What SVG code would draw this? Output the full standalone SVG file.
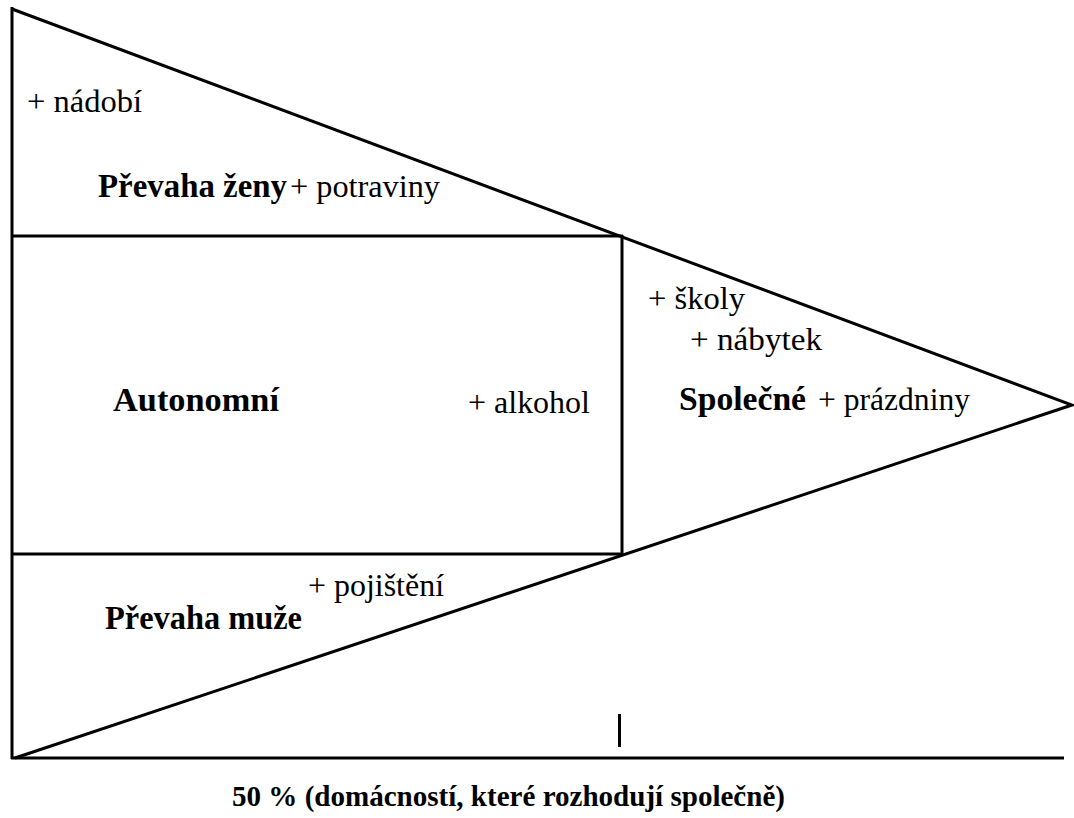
<svg xmlns="http://www.w3.org/2000/svg" width="1074" height="818" viewBox="0 0 1074 818">
  <style>
    .ln { stroke: #000; stroke-width: 3; fill: none; stroke-linecap: butt; stroke-linejoin: miter; }
    .b { font-family: "Liberation Serif", "Times New Roman", serif; font-weight: bold; font-size: 33px; fill: #000; }
    .r { font-family: "Liberation Serif", "Times New Roman", serif; font-size: 32px; fill: #000; }
    .ax { font-size: 29px; }
  </style>
  <rect width="1074" height="818" fill="#fff"/>
  <g id="connectors">
    <!-- outer triangle -->
    <polyline class="ln" points="12,9 1072,405 15,758"/>
    <line class="ln" x1="12" y1="7" x2="12" y2="759"/>
    <!-- autonomous block -->
    <line class="ln" x1="12" y1="236" x2="623" y2="236"/>
    <line class="ln" x1="12" y1="554" x2="623" y2="554"/>
    <line class="ln" x1="622" y1="235" x2="622" y2="556"/>
    <!-- axis -->
    <line class="ln" x1="11" y1="758" x2="1064" y2="758"/>
    <line class="ln" x1="619.5" y1="714" x2="619.5" y2="747"/>
  </g>
  <g id="zeny">
    <text class="r" x="27" y="112" textLength="115" lengthAdjust="spacingAndGlyphs">+ nádobí</text>
    <text class="b" x="98" y="197" textLength="189" lengthAdjust="spacingAndGlyphs">Převaha ženy</text>
    <text class="r" x="290" y="197" textLength="150" lengthAdjust="spacingAndGlyphs">+ potraviny</text>
  </g>
  <g id="autonomni">
    <text class="b" x="113" y="411" textLength="166" lengthAdjust="spacingAndGlyphs">Autonomní</text>
    <text class="r" x="468" y="413" textLength="122" lengthAdjust="spacingAndGlyphs">+ alkohol</text>
  </g>
  <g id="spolecne">
    <text class="r" x="648" y="309" textLength="97" lengthAdjust="spacingAndGlyphs">+ školy</text>
    <text class="r" x="690" y="350" textLength="132" lengthAdjust="spacingAndGlyphs">+ nábytek</text>
    <text class="b" x="679" y="410" textLength="127" lengthAdjust="spacingAndGlyphs">Společné</text>
    <text class="r" x="818" y="410" textLength="152" lengthAdjust="spacingAndGlyphs">+ prázdniny</text>
  </g>
  <g id="muze">
    <text class="r" x="308" y="596" textLength="136" lengthAdjust="spacingAndGlyphs">+ pojištění</text>
    <text class="b" x="105" y="629" textLength="197" lengthAdjust="spacingAndGlyphs">Převaha muže</text>
  </g>
  <g id="osa">
    <text class="b ax" x="232" y="806" textLength="553" lengthAdjust="spacingAndGlyphs">50 % (domácností, které rozhodují společně)</text>
  </g>
</svg>
